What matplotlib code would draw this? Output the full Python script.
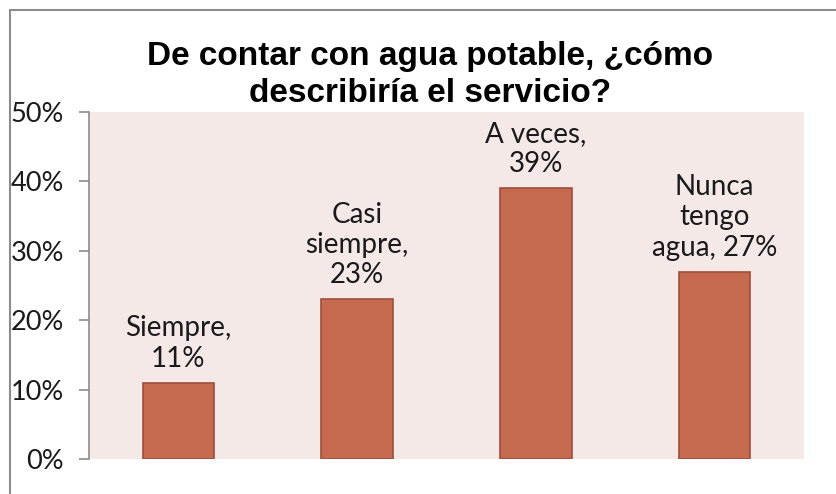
import matplotlib.pyplot as plt
import matplotlib.ticker as mticker
from matplotlib.patches import Rectangle

# Data
categories = ['Siempre', 'Casi siempre', 'A veces', 'Nunca tengo agua']
values = [11, 23, 39, 27]
bar_labels = ['Siempre,\n11%', 'Casi\nsiempre,\n23%', 'A veces,\n39%', 'Nunca\ntengo\nagua, 27%']
yticks = [0, 10, 20, 30, 40, 50]

plt.rcParams['font.family'] = ['Lato', 'DejaVu Sans']

fig = plt.figure(figsize=(8.37, 4.94), dpi=100)
ax = fig.add_axes([89/837, 1 - 459/494, (804-89)/837, (459-112)/494])

x = range(len(categories))
ax.bar(x, values, width=0.4, color='#c5694f', edgecolor='#9e4f3b', linewidth=1.2, zorder=3)
for xi, v, lab in zip(x, values, bar_labels):
    ax.text(xi, v + 1.6, lab, ha='center', va='bottom', fontsize=20, color='#1a1a1a',
            linespacing=1.2)

ax.set_xlim(-0.5, len(categories) - 0.5)
ax.set_ylim(0, 50)
ax.set_yticks(yticks)
ax.yaxis.set_major_formatter(mticker.FuncFormatter(lambda v, p: f'{v:.0f}%'))
ax.set_xticks([])
ax.set_facecolor('#f4e9e7')
for s in ['top', 'right', 'bottom']:
    ax.spines[s].set_visible(False)
ax.spines['left'].set_color('#8c8c8c')
ax.spines['left'].set_linewidth(1.2)
ax.tick_params(axis='y', direction='out', length=7, color='#8c8c8c', width=1.2,
               labelsize=19.5, labelcolor='#1a1a1a', pad=11)

fig.text(430/837, 1 - 75/494, 'De contar con agua potable, ¿cómo\ndescribiría el servicio?',
         ha='center', va='center', fontsize=24, fontweight='bold',
         family=['Liberation Sans', 'DejaVu Sans'], linespacing=1.25)

# outer chart border
fig.add_artist(Rectangle((10/837, -0.05), 1.0, 1 - 10/494 + 0.05, transform=fig.transFigure,
                         fill=False, edgecolor='#8c8c8c', linewidth=1.5))

fig.savefig('out.png', dpi=100)
